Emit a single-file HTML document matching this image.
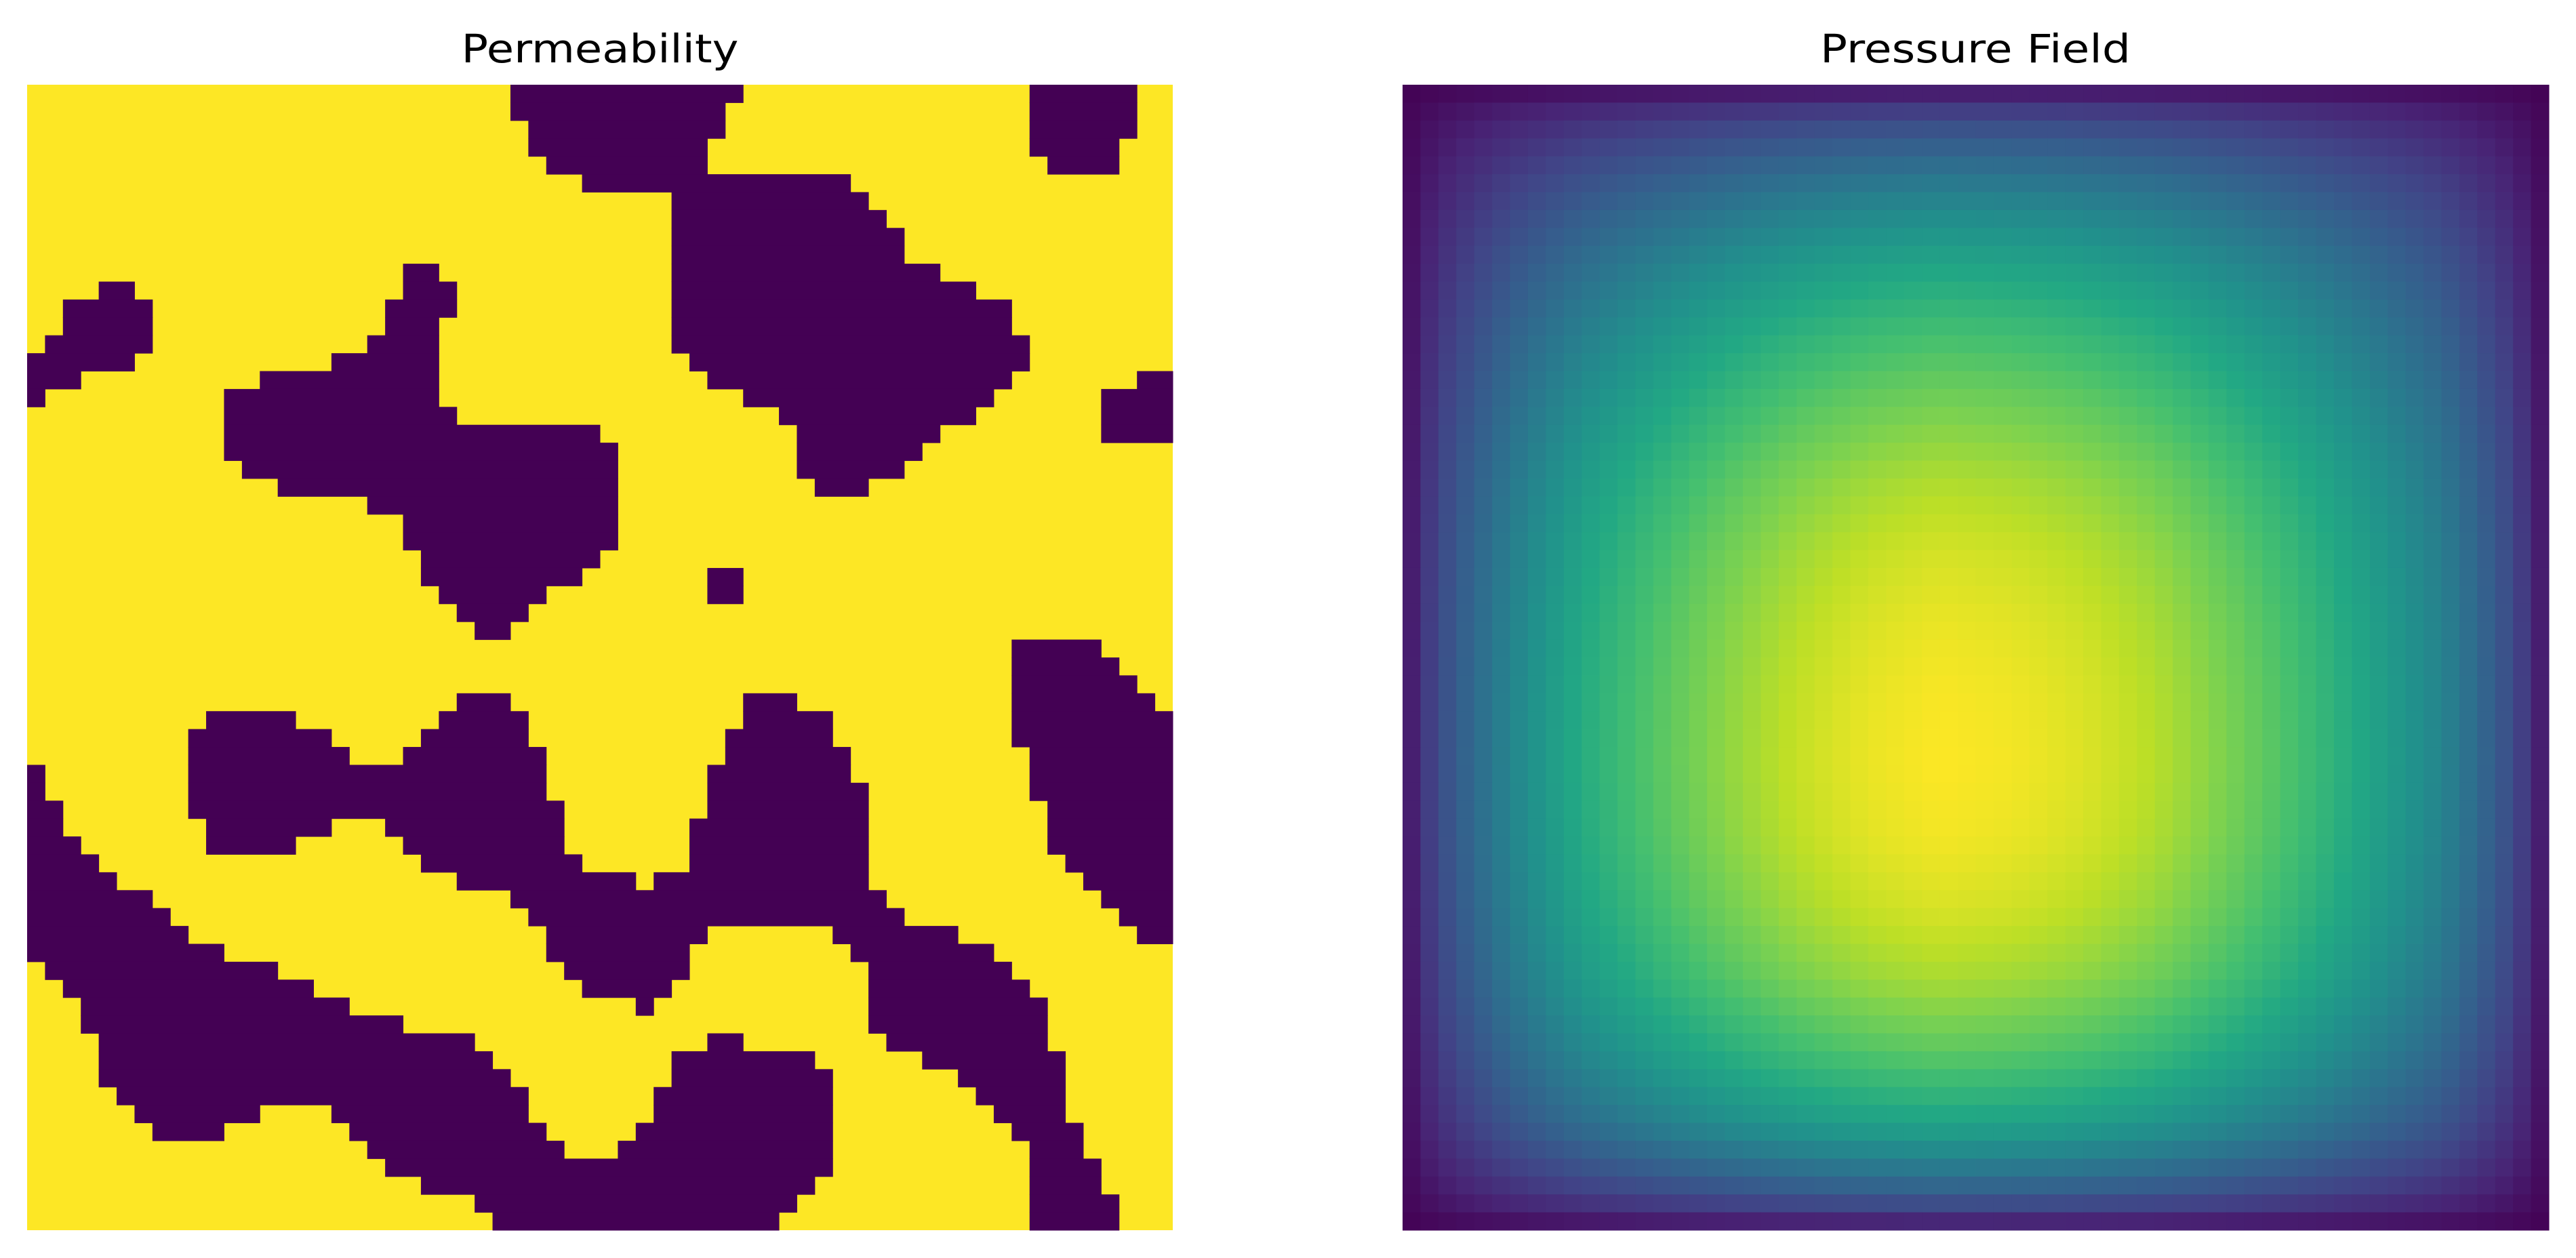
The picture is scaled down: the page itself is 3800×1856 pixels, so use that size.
<!DOCTYPE html>
<html><head><meta charset="utf-8"><style>
html,body{margin:0;padding:0;background:#fff;}
svg{display:block;}
text{font-family:"DejaVu Sans","Liberation Sans",sans-serif;}
</style></head>
<body>
<svg id="fig" width="3800" height="1856" viewBox="0 0 3800 1856" xmlns="http://www.w3.org/2000/svg">
<rect width="3800" height="1856" fill="#ffffff"/>
<text x="885" y="92" font-size="58" text-anchor="middle" textLength="409" lengthAdjust="spacingAndGlyphs" fill="#000">Permeability</text>
<text x="2914" y="92" font-size="58" text-anchor="middle" textLength="458" lengthAdjust="spacingAndGlyphs" fill="#000">Pressure Field</text>
<g id="perm"></g>
<g id="pres"></g>
</svg>
<script>
// Permeability: per-row runs of low-permeability (dark) cells, 64x64 grid
const permRuns = [
[[27,39],[56,61]],[[27,38],[56,61]],[[28,38],[56,61]],[[28,37],[56,60]],[[29,37],[57,60]],
[[31,45]],[[36,46]],[[36,47]],[[36,48]],[[36,48]],
[[21,22],[36,50]],[[4,5],[21,23],[36,52]],[[2,6],[20,23],[36,54]],[[2,6],[20,22],[36,54]],
[[1,6],[19,22],[36,55]],[[0,5],[17,22],[37,55]],[[0,2],[13,22],[38,54],[62,63]],
[[0,0],[11,22],[40,53],[60,63]],[[11,23],[42,52],[60,63]],[[11,31],[43,50],[60,63]],
[[11,32],[43,49]],[[12,32],[43,48]],[[14,32],[44,46]],[[19,32]],[[21,32]],[[21,32]],
[[22,31]],[[22,30],[38,39]],[[23,28],[38,39]],[[24,27]],[[25,26]],
[[55,59]],[[55,60]],[[55,61]],[[24,26],[40,42],[55,62]],
[[10,14],[23,27],[40,44],[55,63]],[[9,16],[22,27],[39,44],[55,63]],
[[9,17],[21,28],[39,45],[56,63]],[[0,0],[9,28],[38,45],[56,63]],
[[0,0],[9,28],[38,46],[56,63]],[[0,1],[9,29],[38,46],[57,63]],
[[0,1],[10,16],[20,29],[37,46],[57,63]],[[0,2],[10,14],[21,29],[37,46],[57,63]],
[[0,3],[22,30],[37,46],[58,63]],[[0,4],[24,33],[35,46],[59,63]],
[[0,6],[27,47],[60,63]],[[0,7],[28,48],[61,63]],[[0,8],[29,37],[45,51],[62,63]],
[[0,10],[29,36],[46,53]],[[1,13],[30,36],[47,54]],[[2,15],[31,35],[47,55]],
[[3,17],[34,34],[47,56]],[[3,20],[47,56]],[[4,24],[38,39],[48,56]],
[[4,25],[36,43],[50,57]],[[4,26],[36,44],[52,57]],[[5,27],[35,44],[53,57]],
[[6,12],[17,27],[35,44],[54,57]],[[7,10],[18,28],[34,44],[55,58]],
[[19,29],[33,44],[56,58]],[[20,44],[56,59]],[[22,43],[56,59]],[[25,42],[56,60]],[[26,41],[56,60]]
];
// Pressure field: normalized profiles sampled at 16 evenly spaced positions
const pressureXProfile = [0.12,0.32,0.50,0.64,0.77,0.88,0.96,1.00,0.98,0.93,0.85,0.73,0.60,0.46,0.32,0.12];
const pressureYProfile = [0.12,0.30,0.46,0.60,0.72,0.83,0.91,0.96,0.99,1.00,0.98,0.92,0.82,0.66,0.46,0.17];
const gridSize = 64;

const NS = "http://www.w3.org/2000/svg";
const viridis = ["#440154","#482475","#414487","#355f8d","#2a788e","#21918c","#22a884","#44bf70","#7ad151","#bddf26","#fde725"];
function hex(h){return [parseInt(h.substr(1,2),16),parseInt(h.substr(3,2),16),parseInt(h.substr(5,2),16)];}
function cmap(v){
  v=Math.max(0,Math.min(1,v));
  const p=v*10, i=Math.min(9,Math.floor(p)), f=p-i;
  const a=hex(viridis[i]), b=hex(viridis[i+1]);
  return "rgb("+a.map((x,k)=>Math.round(x+(b[k]-x)*f)).join(",")+")";
}
function xScale(x0,w){return c=>x0+c*w/gridSize;}
const permX = xScale(40,1690), permY = xScale(125,1690);
const presX = xScale(2069,1691), presY = xScale(125,1690);

const perm = document.getElementById("perm");
const bg = document.createElementNS(NS,"rect");
bg.setAttribute("x",permX(0));bg.setAttribute("y",permY(0));
bg.setAttribute("width",permX(gridSize)-permX(0));bg.setAttribute("height",permY(gridSize)-permY(0));
bg.setAttribute("fill","#fde725");


perm.appendChild(bg);
permRuns.forEach((runs,r)=>{
  runs.forEach(([a,b])=>{
    const el=document.createElementNS(NS,"rect");
    el.setAttribute("x",permX(a));el.setAttribute("y",permY(r));
    el.setAttribute("width",permX(b+1)-permX(a)+0.5);el.setAttribute("height",permY(r+1)-permY(r)+0.5);
    el.setAttribute("fill","#440154");
    
    
    perm.appendChild(el);
  });
});

function sampleProfile(prof,t){
  const n=prof.length;
  const xs=[0].concat(prof.map((_,j)=>(j+0.5)/n)).concat([1]);
  const ys=[0].concat(prof).concat([0]);
  for(let k=0;k<xs.length-1;k++){
    if(t>=xs[k]&&t<=xs[k+1]){const f=(t-xs[k])/(xs[k+1]-xs[k]);return ys[k]+(ys[k+1]-ys[k])*f;}
  }
  return 0;
}
const pres=document.getElementById("pres");
for(let r=0;r<gridSize;r++){
  const fy=sampleProfile(pressureYProfile,(r+0.5)/gridSize);
  for(let c=0;c<gridSize;c++){
    const fx=sampleProfile(pressureXProfile,(c+0.5)/gridSize);
    const v=Math.pow(fx*fy,0.7);
    const el=document.createElementNS(NS,"rect");
    el.setAttribute("x",presX(c));el.setAttribute("y",presY(r));
    el.setAttribute("width",presX(c+1)-presX(c)+0.5);el.setAttribute("height",presY(r+1)-presY(r)+0.5);
    el.setAttribute("fill",cmap(v));
    
    
    pres.appendChild(el);
  }
}
</script>
</body></html>
